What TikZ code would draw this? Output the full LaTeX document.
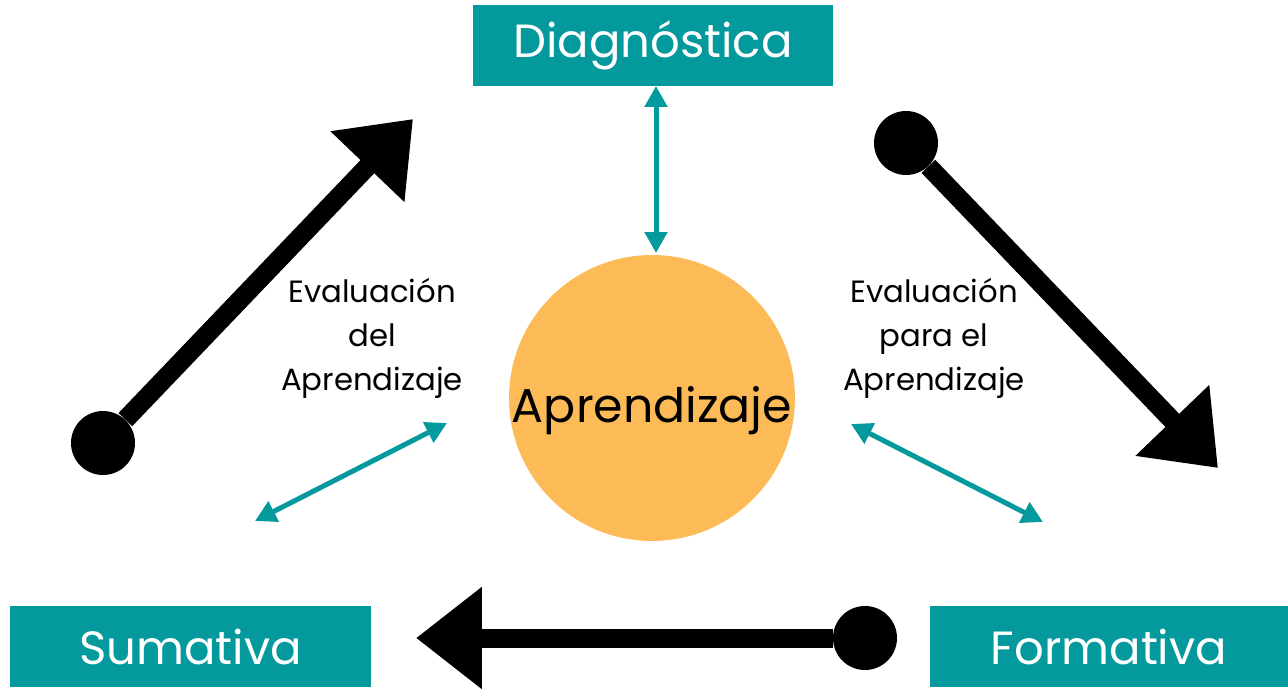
\documentclass[tikz,border=0pt]{standalone}
\usepackage{fontspec}
\setmainfont{Poppins}
\usetikzlibrary{positioning}
\usetikzlibrary{arrows.meta}
\definecolor{tealbox}{RGB}{4,153,157}
\definecolor{sunorange}{RGB}{253,187,88}
\tikzset{
	stagebox/.style={fill=tealbox, text=white, minimum height=1.62cm, inner sep=0pt, font=\fontsize{26.5}{30}\selectfont},
	bigdot/.style={circle, fill=black, minimum size=1.28cm, inner sep=0pt},
	bigarrow/.style={line width=0.38cm, -{Triangle[length=1.32cm, width=1.96cm]}},
	thinarrow/.style={tealbox, line width=0.1cm, {Triangle[length=0.42cm, width=0.44cm]}-{Triangle[length=0.42cm, width=0.44cm]}},
	evaltext/.style={align=center, font=\fontsize{17.5}{25}\selectfont}
}
\begin{document}
\begin{tikzpicture}[x=0.02cm, y=-0.02cm]
		\useasboundingbox (0,0) rectangle (1288,689);
		% etapas
		\node[stagebox, minimum width=7.2cm] (diag) at (653,45.5) {Diagnóstica};
		\node[stagebox, minimum width=7.22cm] (suma) at (190.5,646.5) {Sumativa};
		\node[stagebox, minimum width=7.16cm] (form) at (1109,646.5) {Formativa};
		% centro
		\node[circle, fill=sunorange, minimum size=5.72cm, inner sep=0pt] (apre) at (652,398) {};
		\node[font=\fontsize{27}{30}\selectfont] (apretext) at (652,411) {Aprendizaje};
		\node[evaltext] (evdel) at (372,338) {Evaluación\\del\\Aprendizaje};
		\node[evaltext] (evpara) at (934,338) {Evaluación\\para el\\Aprendizaje};
		% flechas negras
		\node[bigdot] (dotL) at (103,443) {};
		\node[bigdot] (dotR) at (906,143) {};
		\node[bigdot] (dotB) at (865,638) {};
		\coordinate (tipL) at (413,119);
		\coordinate (tipR) at (1218,468);
		\coordinate (tipB) at (416,638);
		\draw[bigarrow] (dotL) -- (tipL);
		\draw[bigarrow] (dotR) -- (tipR);
		\draw[bigarrow] (dotB) -- (tipB);
		% flechas dobles
		\coordinate (dA) at (656,86);
		\coordinate (dB) at (656,253);
		\coordinate (lA) at (255,521);
		\coordinate (lB) at (447,423);
		\coordinate (rA) at (851,424);
		\coordinate (rB) at (1043,522);
		\draw[thinarrow] (dA) -- (dB);
		\draw[thinarrow] (lA) -- (lB);
		\draw[thinarrow] (rA) -- (rB);
	\end{tikzpicture}
\end{document}
